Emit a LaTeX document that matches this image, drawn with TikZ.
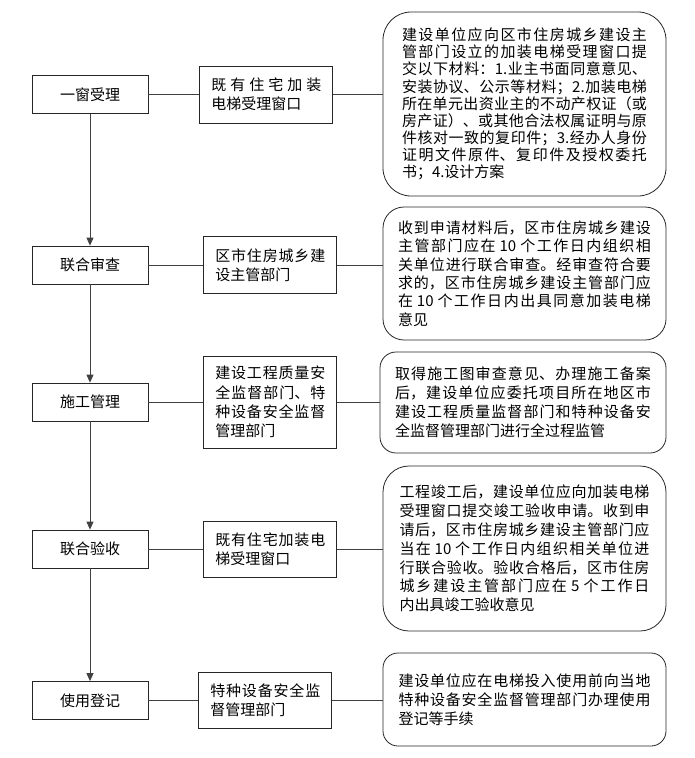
\documentclass[tikz,border=0pt]{standalone}
\usepackage{fontspec}
\setmainfont{Noto Sans CJK SC}
\usepackage{tikz}
\usetikzlibrary{arrows.meta,positioning}
\XeTeXlinebreaklocale "zh"
\XeTeXlinebreakskip=0pt plus 4pt

\begin{document}
\begin{tikzpicture}[
      x=1pt, y=-1pt,
      font=\fontsize{15pt}{18.8pt}\selectfont,
      >=Latex,
      stage/.style={draw=black!85, line width=0.8pt, minimum width=116pt, minimum height=38pt, inner sep=0pt},
      dept/.style={draw=black!85, line width=0.8pt, align=justify, text width=110pt, inner xsep=11.5pt, minimum height=57pt,
                   font=\fontsize{15pt}{19.3pt}\selectfont},
      note/.style={draw=black!85, line width=0.8pt, rounded corners=#1, align=justify, text width=250pt, inner xsep=16.5pt},
      link/.style={draw=black!75, line width=0.8pt},
      arr/.style={link, -{Triangle[width=7pt,length=8pt]}}
    ]
    \useasboundingbox (0,0) rectangle (694,758);

    % Left column: the five stages
    \node[stage] (accept) at (90,94.5) {一窗受理};
    \node[stage] (review) at (90,265) {联合审查};
    \node[stage] (build) at (90,402) {施工管理};
    \node[stage] (check) at (90,549) {联合验收};
    \node[stage] (register) at (90,700.5) {使用登记};

    % Middle column: responsible departments
    \node[dept, right=51pt of accept] (acceptwin) {既有住宅加装\linebreak 电梯受理窗口};
    \node[dept, right=55pt of review] (housing) {区市住房城乡建\linebreak 设主管部门};
    \node[dept, right=55pt of build, minimum height=92pt] (supervise) {建设工程质量安\linebreak 全监督部门、特\linebreak 种设备安全监督\linebreak 管理部门};
    \node[dept, right=55pt of check, minimum height=56pt] (checkwin) {既有住宅加装电\linebreak 梯受理窗口};
    \node[dept, right=50pt of register, minimum height=56pt] (special) {特种设备安全监\linebreak 督管理部门};

    % Right column: what each stage requires
    \node[note=28pt, text width=245pt, inner xsep=19pt, minimum height=184pt, font=\fontsize{15pt}{17.1pt}\selectfont] (acceptnote) at (524.5,104)
      {建设单位应向区市住房城乡建设主\linebreak 管部门设立的加装电梯受理窗口提\linebreak 交以下材料：1.业主书面同意意见、\linebreak 安装协议、公示等材料；2.加装电梯\linebreak 所在单元出资业主的不动产权证（或\linebreak 房产证）、或其他合法权属证明与原\linebreak 件核对一致的复印件；3.经办人身份\linebreak 证明文件原件、复印件及授权委托\linebreak 书；4.设计方案};
    \node[note=21pt, text width=253pt, inner xsep=15pt, minimum height=133pt, font=\fontsize{15pt}{18.3pt}\selectfont] (reviewnote) at (524.5,273.5)
      {收到申请材料后，区市住房城乡建设\linebreak 主管部门应在 10 个工作日内组织相\linebreak 关单位进行联合审查。经审查符合要\linebreak 求的，区市住房城乡建设主管部门应\linebreak 在 10 个工作日内出具同意加装电梯\linebreak 意见};
    \node[note=16pt, text width=256pt, inner xsep=15pt, minimum height=101pt, font=\fontsize{15pt}{19pt}\selectfont] (buildnote) at (523,402.5)
      {取得施工图审查意见、办理施工备案\linebreak 后，建设单位应委托项目所在地区市\linebreak 建设工程质量监督部门和特种设备安\linebreak 全监督管理部门进行全过程监管};
    \node[note=26pt, minimum height=165pt] (checknote) at (524.5,548.5)
      {工程竣工后，建设单位应向加装电梯\linebreak 受理窗口提交竣工验收申请。收到申\linebreak 请后，区市住房城乡建设主管部门应\linebreak 当在 10 个工作日内组织相关单位进\linebreak 行联合验收。验收合格后，区市住房\linebreak 城乡建设主管部门应在 5 个工作日\linebreak 内出具竣工验收意见};
    \node[note=15pt, text width=252pt, inner xsep=15.5pt, minimum height=93pt, font=\fontsize{15pt}{19.2pt}\selectfont] (registernote) at (524.5,699.5)
      {建设单位应在电梯投入使用前向当地\linebreak 特种设备安全监督管理部门办理使用\linebreak 登记等手续};

    % Stage to stage
    \draw[arr] (accept) -- (review);
    \draw[arr] (review) -- (build);
    \draw[arr] (build) -- (check);
    \draw[arr] (check) -- (register);

    % Stage to department to note
    \draw[link] (accept.east) -- (acceptwin.west);
    \draw[link] (acceptwin.east) -- (acceptwin.east -| acceptnote.west);
    \draw[link] (review.east) -- (housing.west);
    \draw[link] (housing.east) -- (housing.east -| reviewnote.west);
    \draw[link] (build.east) -- (supervise.west);
    \draw[link] (supervise.east) -- (supervise.east -| buildnote.west);
    \draw[link] (check.east) -- (checkwin.west);
    \draw[link] (checkwin.east) -- (checkwin.east -| checknote.west);
    \draw[link] (register.east) -- (special.west);
    \draw[link] (special.east) -- (special.east -| registernote.west);
  \end{tikzpicture}
\end{document}
